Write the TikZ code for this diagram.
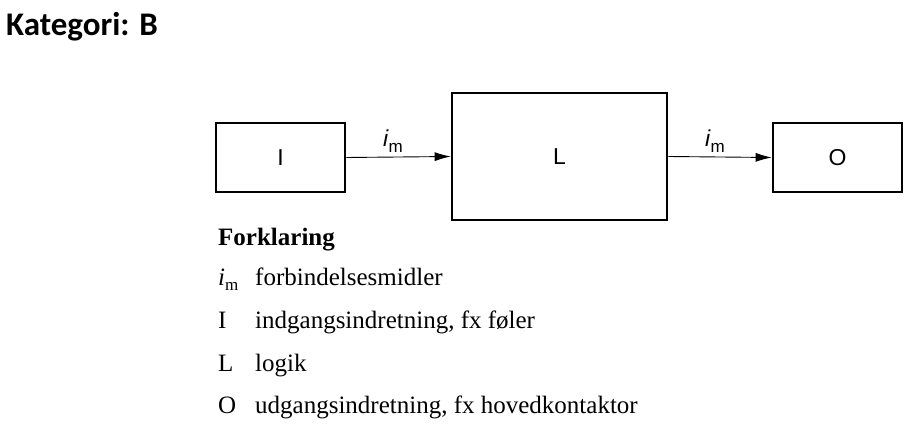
\documentclass[tikz,border=0pt]{standalone}
\usepackage{fontspec}
\setmainfont{Liberation Serif}
\setsansfont{Liberation Sans}
\newfontfamily\titlefont{Carlito}
\usetikzlibrary{arrows.meta}
\begin{document}
\begin{tikzpicture}[x=1pt,y=-1pt,
  box/.style={draw,line width=2.6pt,inner sep=0pt,font=\sffamily\fontsize{23}{27}\selectfont},
  conn/.style={line width=0.9pt,-{Latex[length=16pt,width=9pt]}},
  lbl/.style={font=\sffamily\fontsize{23}{27}\selectfont},
  leg/.style={anchor=base west,inner sep=0pt,font=\fontsize{25}{30}\selectfont}]
\useasboundingbox (0,0) rectangle (913,430);
\node[anchor=base west,inner sep=0pt,font=\titlefont\bfseries\fontsize{33}{38}\selectfont] (t) at (6,36) {Kategori: B};
\node[box,minimum width=129pt,minimum height=69pt] (I) at (280.5,157.5) {I};
\node[box,minimum width=215pt,minimum height=127pt] (L) at (559.5,156.5) {L};
\node[box,minimum width=129pt,minimum height=69pt] (O) at (837.5,157.5) {O};
\draw[conn] (I.east) -- (L.west);
\draw[conn] (L.east) -- (O.west);
\node[lbl] (l1) at (393,141) {\textit{i}\raisebox{-6pt}{\fontsize{17}{20}\selectfont m}};
\node[lbl] (l2) at (715,141) {\textit{i}\raisebox{-6pt}{\fontsize{17}{20}\selectfont m}};
\node[leg,font=\bfseries\fontsize{25}{30}\selectfont] (f) at (218,246) {Forklaring};
\node[leg] (s1) at (218,286) {\textit{i}\raisebox{-5pt}{\fontsize{17}{20}\selectfont m}};
\node[leg] (d1) at (255,286) {forbindelsesmidler};
\node[leg] (s2) at (218,329) {I};
\node[leg] (d2) at (255,329) {indgangsindretning, fx føler};
\node[leg] (s3) at (218,371) {L};
\node[leg] (d3) at (255,371) {logik};
\node[leg] (s4) at (218,413) {O};
\node[leg] (d4) at (255,413) {udgangsindretning, fx hovedkontaktor};
\end{tikzpicture}
\end{document}
